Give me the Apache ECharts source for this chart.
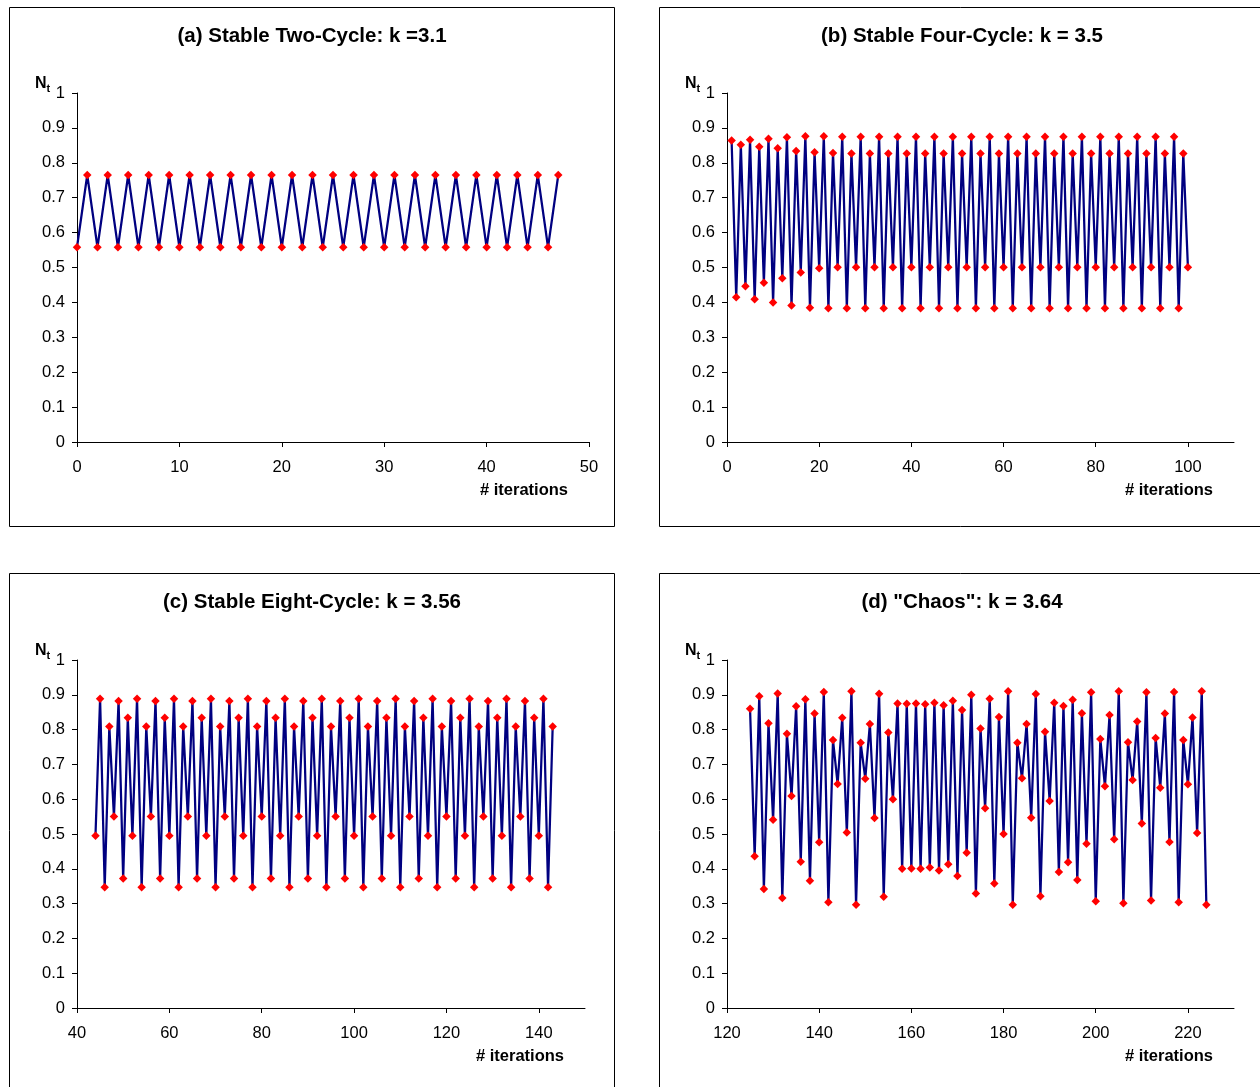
<!DOCTYPE html>
<html>
<head>
<meta charset="utf-8">
<script src="https://cdn.jsdelivr.net/npm/echarts@6/dist/echarts.min.js"></script>
<style>
html,body{margin:0;padding:0;background:#fff;}
#chart{width:1260px;height:1087px;}
</style>
</head>
<body>
<div id="chart"></div>
<script>
// ---------- DATA ----------
const titles = [
  '(a) Stable Two-Cycle: k =3.1',
  '(b) Stable Four-Cycle: k = 3.5',
  '(c) Stable Eight-Cycle: k = 3.56',
  '(d) "Chaos": k = 3.64'
];
const xAxisLabel = '# iterations';
const yAxisLabel = 'N';
const yAxisSub = 't';

// first iteration number of each series
const aStart = 0;
const bStart = 1;
const cStart = 44;
const dStart = 125;

const aValues = [
  0.558,0.765,0.558,0.765,0.558,0.765,0.558,0.765,0.558,0.765,
  0.558,0.765,0.558,0.765,0.558,0.765,0.558,0.765,0.558,0.765,
  0.558,0.765,0.558,0.765,0.558,0.765,0.558,0.765,0.558,0.765,
  0.558,0.765,0.558,0.765,0.558,0.765,0.558,0.765,0.558,0.765,
  0.558,0.765,0.558,0.765,0.558,0.765,0.558,0.765
];

const bValues = [
  0.864,0.415,0.852,0.446,0.866,0.409,0.846,0.456,0.869,0.400,
  0.842,0.469,0.873,0.391,0.834,0.486,0.876,0.385,0.830,0.498,
  0.876,0.383,0.828,0.501,
  0.875,0.383,0.827,0.501, 0.875,0.383,0.827,0.501, 0.875,0.383,0.827,0.501,
  0.875,0.383,0.827,0.501, 0.875,0.383,0.827,0.501, 0.875,0.383,0.827,0.501,
  0.875,0.383,0.827,0.501, 0.875,0.383,0.827,0.501, 0.875,0.383,0.827,0.501,
  0.875,0.383,0.827,0.501, 0.875,0.383,0.827,0.501, 0.875,0.383,0.827,0.501,
  0.875,0.383,0.827,0.501, 0.875,0.383,0.827,0.501, 0.875,0.383,0.827,0.501,
  0.875,0.383,0.827,0.501, 0.875,0.383,0.827,0.501, 0.875,0.383,0.827,0.501,
  0.875,0.383,0.827,0.501
];

const cValues = [
  0.495,0.889,0.347,0.809,0.550,0.882,0.372,0.834,
  0.495,0.889,0.347,0.809,0.550,0.882,0.372,0.834,
  0.495,0.889,0.347,0.809,0.550,0.882,0.372,0.834,
  0.495,0.889,0.347,0.809,0.550,0.882,0.372,0.834,
  0.495,0.889,0.347,0.809,0.550,0.882,0.372,0.834,
  0.495,0.889,0.347,0.809,0.550,0.882,0.372,0.834,
  0.495,0.889,0.347,0.809,0.550,0.882,0.372,0.834,
  0.495,0.889,0.347,0.809,0.550,0.882,0.372,0.834,
  0.495,0.889,0.347,0.809,0.550,0.882,0.372,0.834,
  0.495,0.889,0.347,0.809,0.550,0.882,0.372,0.834,
  0.495,0.889,0.347,0.809,0.550,0.882,0.372,0.834,
  0.495,0.889,0.347,0.809,0.550,0.882,0.372,0.834,
  0.495,0.889,0.347,0.809
];

const dValues = [
  0.860,0.436,0.896,0.342,0.818,0.541,0.904,0.316,0.788,0.609,
  0.867,0.420,0.887,0.366,0.846,0.476,0.908,0.304,0.770,0.644,
  0.834,0.504,0.910,0.297,0.762,0.659,0.816,0.546,0.903,0.320,
  0.792,0.600,0.875,0.400,0.874,0.401,0.875,0.400,0.873,0.404,
  0.877,0.395,0.870,0.413,0.883,0.379,0.856,0.446,0.900,0.329,
  0.803,0.574,0.889,0.358,0.836,0.500,0.910,0.297,0.762,0.660,
  0.816,0.547,0.902,0.321,0.794,0.595,0.877,0.391,0.868,0.419,
  0.886,0.368,0.847,0.472,0.907,0.307,0.773,0.637,0.842,0.485,
  0.910,0.301,0.764,0.655,0.823,0.530,0.907,0.309,0.776,0.633,
  0.846,0.477,0.908,0.304,0.770,0.643,0.835,0.503,0.910,0.297
];

const aTicks = [0,10,20,30,40,50];
const bTicks = [0,20,40,60,80,100];
const cTicks = [40,60,80,100,120,140];
const dTicks = [120,140,160,180,200,220];

// ---------- LAYOUT / STYLE ----------
const FONT = '"Liberation Sans", Arial, sans-serif';
const LABEL_SIZE = 16.5;
const panels = [
  {box:[9.5,7.5,605,519], grid:{left:77,top:93,width:512,height:349}, xMin:0,  xMax:50,  ticks:aTicks, start:aStart, values:aValues},
  {box:[659.5,7.5,606,519], grid:{left:727,top:93,width:507,height:349}, xMin:0, xMax:110, ticks:bTicks, start:bStart, values:bValues},
  {box:[9.5,573.5,605,530], grid:{left:77,top:660,width:508,height:348}, xMin:40, xMax:150, ticks:cTicks, start:cStart, values:cValues},
  {box:[659.5,573.5,606,530], grid:{left:727,top:660,width:507,height:348}, xMin:120, xMax:230, ticks:dTicks, start:dStart, values:dValues}
];

const grids = [], xAxes = [], yAxes = [], series = [], graphics = [];
panels.forEach((p, i) => {
  grids.push(Object.assign({containLabel:false}, p.grid));
  xAxes.push({
    type:'value', gridIndex:i, min:p.xMin, max:p.xMax, interval:20,
    axisLine:{show:true, onZero:false, lineStyle:{color:'#000', width:1}},
    axisTick:{show:true, inside:false, length:5, customValues:p.ticks, lineStyle:{color:'#000'}},
    axisLabel:{show:true, customValues:p.ticks, margin:16.5, color:'#000', fontSize:LABEL_SIZE, fontFamily:FONT},
    splitLine:{show:false}
  });
  yAxes.push({
    type:'value', gridIndex:i, min:0, max:1, interval:0.1,
    axisLine:{show:true, onZero:false, lineStyle:{color:'#000', width:1}},
    axisTick:{show:true, inside:false, length:5, lineStyle:{color:'#000'}},
    axisLabel:{show:true, margin:12, color:'#000', fontSize:LABEL_SIZE, fontFamily:FONT,
      formatter: v => String(Math.round(v*10)/10)},
    splitLine:{show:false}
  });
  series.push({
    type:'line', xAxisIndex:i, yAxisIndex:i,
    data: p.values.map((v, k) => [p.start + k, v]),
    symbol:'diamond', symbolSize:[8.5,8.5], showAllSymbol:true,
    lineStyle:{color:'#000080', width:2.25},
    itemStyle:{color:'#ff0000', borderWidth:0},
    emphasis:{disabled:true}, silent:true, z:3
  });
  const b = p.box;
  graphics.push({type:'rect', shape:{x:b[0], y:b[1], width:b[2], height:b[3]},
    style:{fill:'none', stroke:'#000', lineWidth:1}, silent:true, z:0});
  graphics.push({type:'text', x: i % 2 === 0 ? 312 : 962, y: b[1] + 28.5,
    style:{text:titles[i], font:'bold 20.5px ' + FONT, fill:'#000', align:'center', verticalAlign:'middle'}});
  graphics.push({type:'text', x: p.grid.left + p.grid.width - 21, y: p.grid.top + p.grid.height + 48.5,
    style:{text:xAxisLabel, font:'bold 16.5px ' + FONT, fill:'#000', align:'right', verticalAlign:'middle'}});
  graphics.push({type:'text', x: p.grid.left - 42, y: p.grid.top - 9,
    style:{text:yAxisLabel, font:'bold 16px ' + FONT, fill:'#000', align:'left', verticalAlign:'middle'}});
  graphics.push({type:'text', x: p.grid.left - 30.5, y: p.grid.top - 4,
    style:{text:yAxisSub, font:'bold 11px ' + FONT, fill:'#000', align:'left', verticalAlign:'middle'}});
});

const chart = echarts.init(document.getElementById('chart'), null, {renderer:'canvas'});
chart.setOption({
  animation:false,
  backgroundColor:'#fff',
  grid:grids, xAxis:xAxes, yAxis:yAxes, series:series,
  graphic:graphics
});
</script>
</body>
</html>
